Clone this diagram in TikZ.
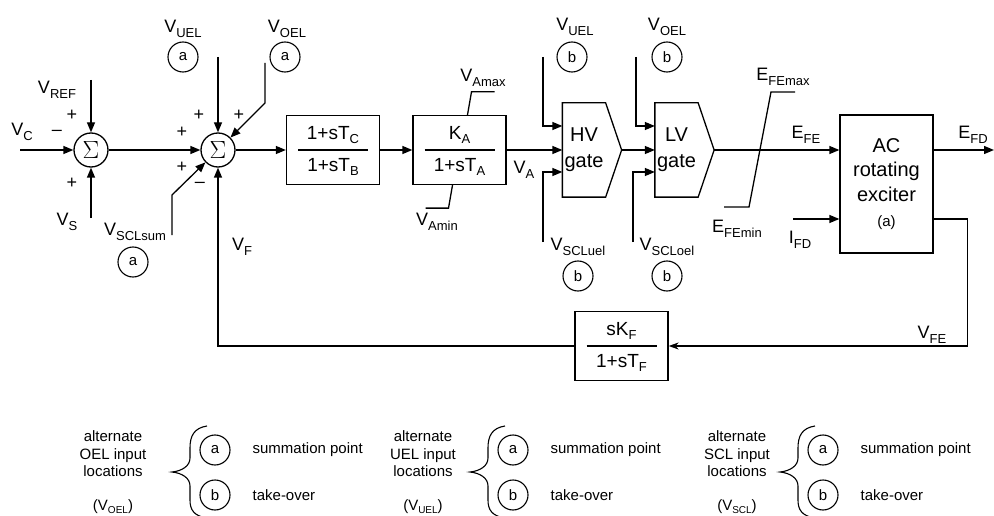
\documentclass[tikz,border=0pt]{standalone}
\usepackage{fontspec}
\setmainfont{Liberation Sans}
\usetikzlibrary{arrows.meta}
% subscripts as printed in the figure
\newcommand{\sbs}[1]{\raisebox{-0.25em}{\fontsize{13}{13}\selectfont #1}}
\newcommand{\lsbs}[1]{\raisebox{-0.2em}{\fontsize{10}{10}\selectfont #1}}
% transfer function block: name, x, y, numerator, denominator
\newcommand{\tfblock}[5]{%
  \node[blk] (#1) at (#2,#3) {};
  \draw ([xshift=-35pt]#1.center) -- ([xshift=35pt]#1.center);
  \node[frc] (#1num) at ([yshift=15pt]#1.center) {#4};
  \node[frc] (#1den) at ([yshift=-17pt]#1.center) {#5};
}

\begin{document}
\begin{tikzpicture}[x=1pt,y=-1pt,line width=1.3pt,
    blk/.style={draw,minimum width=93pt,minimum height=69pt,inner sep=0pt},
    frc/.style={font=\fontsize{19}{21}\selectfont,inner sep=0pt},
    lbl/.style={font=\fontsize{18}{20}\selectfont,inner sep=0pt},
    sign/.style={font=\fontsize{18}{18}\selectfont,inner sep=0pt},
    sumc/.style={draw,circle,minimum size=34pt,inner sep=0pt,font=\fontsize{23}{23}\selectfont},
    letc/.style={draw,circle,minimum size=30pt,inner sep=0pt,line width=1.1pt,font=\fontsize{15}{15}\selectfont},
    gtxt/.style={minimum width=42pt,minimum height=93pt,inner sep=0pt,align=center,font=\fontsize{20}{26}\selectfont},
    leg/.style={font=\fontsize{15}{17.5}\selectfont,inner sep=0pt,align=center},
    arr/.style={-{Triangle[length=10pt,width=8pt]}},
    arrfb/.style={-{Stealth[length=10pt,width=7pt]}}]
    \useasboundingbox (0,0) rectangle (994,516);

    % First summing junction
    \node[sumc] (s1) at (91,150) {$\Sigma$};
    \node[lbl] (lvc) at (22,132) {V\sbs{C}};
    \node[lbl] (lvref) at (57,90) {V\sbs{REF}};
    \node[lbl] (lvs) at (67,222) {V\sbs{S}};
    \node[sign] (p1a) at (72,115) {+};
    \node[sign] (m1) at (57,133) {\textendash};
    \node[sign] (p1b) at (72,183) {+};
    \coordinate (vc) at (20,150);
    \coordinate (vref) at (91,80);
    \coordinate (vs) at (91,218);
    \draw[arr] (vc) -- (s1);
    \draw[arr] (vref) -- (s1);
    \draw[arr] (vs) -- (s1);

    % Second summing junction
    \node[sumc] (s2) at (218,150) {$\Sigma$};
    \draw[arr] (s1) -- (s2);
    \node[sign] (p2a) at (199,115) {+};
    \node[sign] (p2b) at (239,115) {+};
    \node[sign] (p2c) at (182,132) {+};
    \node[sign] (p2d) at (182,167) {+};
    \node[sign] (m2) at (200,185) {\textendash};
    \node[lbl] (luela) at (183,29) {V\sbs{UEL}};
    \node[letc] (cuela) at (183,57) {a};
    \node[lbl] (loela) at (287,29) {V\sbs{OEL}};
    \node[letc] (coela) at (285,57) {a};
    \node[lbl] (lsclsum) at (135,232) {V\sbs{SCLsum}};
    \node[letc] (csclsum) at (133,262) {a};
    \node[lbl] (lvf) at (242,247) {V\sbs{F}};
    \coordinate (uela) at (218,57);
    \coordinate (oela) at (265,63);
    \coordinate (scla) at (172,235);
    \draw[arr] (uela) -- (s2);
    \draw[arr] (oela) -- ++(0,40) -- (s2);
    \draw[arr] (scla) -- ++(0,-40) -- (s2);

    % Lead-lag and amplifier
    \tfblock{lead}{333}{150}{1+sT\sbs{C}}{1+sT\sbs{B}}
    \tfblock{ka}{459.5}{150}{K\sbs{A}}{1+sT\sbs{A}}
    \draw[arr] (s2) -- (lead);
    \draw[arr] (lead) -- (ka);
    \draw ([xshift=8pt]ka.north) -- ++(4,-23) -- ++(23,0);
    \draw ([xshift=-7pt]ka.south) -- ++(-4,23) -- ++(-23,0);
    \node[lbl] (lvamax) at (483,78) {V\sbs{Amax}};
    \node[lbl] (lvamin) at (437,222) {V\sbs{Amin}};
    \node[lbl] (lva) at (524,170) {V\sbs{A}};

    % HV and LV gates
    \node[gtxt] (hv) at (584,150) {HV\\gate};
    \draw (hv.north west) -- (hv.north east) -- ([xshift=16pt]hv.east) -- (hv.south east) -- (hv.south west) -- cycle;
    \coordinate (hvtip) at ([xshift=16pt]hv.east);
    \node[gtxt] (lv) at (676.5,150) {LV\\gate};
    \draw (lv.north west) -- (lv.north east) -- ([xshift=16pt]lv.east) -- (lv.south east) -- (lv.south west) -- cycle;
    \coordinate (lvtip) at ([xshift=16pt]lv.east);
    \draw[arr] (ka) -- (hv);
    \draw[arr] (hvtip) -- (lv);
    \coordinate (uelb) at (543,57);
    \coordinate (scluel) at (543,242);
    \coordinate (oelb) at (636,57);
    \coordinate (scloel) at (633,242);
    \draw[arr] (uelb) |- ([yshift=24pt]hv.west);
    \draw[arr] (scluel) |- ([yshift=-22pt]hv.west);
    \draw[arr] (oelb) |- ([yshift=24pt]lv.west);
    \draw[arr] (scloel) |- ([yshift=-22pt]lv.west);
    \node[lbl] (luelb) at (575,27) {V\sbs{UEL}};
    \node[letc] (cuelb) at (572,57) {b};
    \node[lbl] (loelb) at (667,27) {V\sbs{OEL}};
    \node[letc] (coelb) at (667,57) {b};
    \node[lbl] (lscluel) at (578,247) {V\sbs{SCLuel}};
    \node[letc] (cscluel) at (578,276) {b};
    \node[lbl] (lscloel) at (667,247) {V\sbs{SCLoel}};
    \node[letc] (cscloel) at (667,276) {b};

    % AC rotating exciter
    \node[blk,minimum height=138pt,align=center,font=\fontsize{20}{24.5}\selectfont] (ac) at (886.5,184)
        {AC\\rotating\\exciter\\[1pt]{\fontsize{15}{15}\selectfont(a)}};
    \draw[arr] (lvtip) -- (lvtip -| ac.west);
    \coordinate (efemin) at (724,207);
    \draw (efemin) -- ++(25,0) -- ++(22,-115) -- ++(24,0);
    \node[lbl] (lefemax) at (783,77) {E\sbs{FEmax}};
    \node[lbl] (lefemin) at (737,229) {E\sbs{FEmin}};
    \node[lbl] (lefe) at (806,135) {E\sbs{FE}};
    \coordinate (efd) at (994,150);
    \draw[arr] (ac.east |- lvtip) -- (efd);
    \node[lbl] (lefd) at (973,135) {E\sbs{FD}};
    \coordinate (ifd) at (793,219);
    \draw[arr] (ifd) -- (ifd -| ac.west);
    \node[lbl] (lifd) at (800,240) {I\sbs{FD}};

    % Rate feedback
    \tfblock{fb}{621.5}{346}{sK\sbs{F}}{1+sT\sbs{F}}
    \draw[arrfb] (ac.east |- ifd) -- ++(34,0) |- (fb);
    \draw[arr] (fb) -| (s2);
    \node[lbl] (lvfe) at (932,335) {V\sbs{FE}};

    % Legend
    \foreach \tx/\bx/\nm in {113/172/OEL, 423/470/UEL, 737/780/SCL} {
        \node[leg] (alt\nm) at (\tx,454) {alternate\\\nm{} input\\locations};
        \node[leg] (var\nm) at (\tx,507) {(V\lsbs{\nm})};
        \draw[line width=1.1pt] ({\bx+35},426) .. controls ({\bx+22},428) and ({\bx+18},436) .. ({\bx+18},448)
            -- ({\bx+18},458) .. controls ({\bx+18},466) and ({\bx+10},471) .. (\bx,472)
            .. controls ({\bx+10},473) and ({\bx+18},478) .. ({\bx+18},486)
            -- ({\bx+18},500) .. controls ({\bx+18},510) and ({\bx+22},516) .. ({\bx+35},518);
        \node[letc] (ca\nm) at ({\bx+43},450) {a};
        \node[letc] (cb\nm) at ({\bx+43},495) {b};
        \node[leg,anchor=west] (sp\nm) at ({\bx+80},450) {summation point};
        \node[leg,anchor=west] (to\nm) at ({\bx+80},495) {take-over};
    }
\end{tikzpicture}
\end{document}
